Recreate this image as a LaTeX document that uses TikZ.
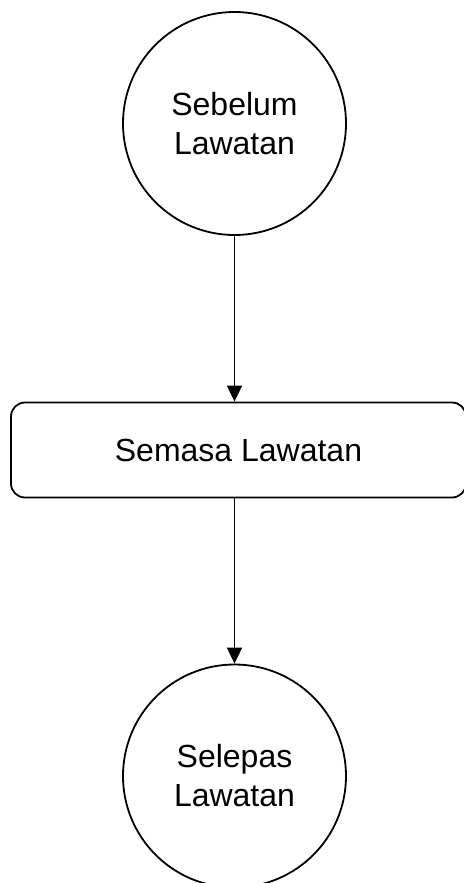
\documentclass[tikz,border=0pt]{standalone}
\usepackage{fontspec}
\setmainfont{Liberation Sans}
\usetikzlibrary{arrows.meta}

\begin{document}
\begin{tikzpicture}[x=1pt, y=-1pt, line width=1.8pt,
	arrows={-Triangle[length=16pt,width=15pt]},
	font=\fontsize{32}{39}\selectfont]
	\useasboundingbox (0,0) rectangle (463,883);
	\node (S1) at (234.5,123.5) [circle, draw, minimum size=223pt, inner sep=0pt, align=center] {Sebelum\\Lawatan};
	\node (S2) at (238.5,450) [draw, rounded corners=14pt, minimum width=455pt, minimum height=95pt, inner sep=0pt] {Semasa Lawatan};
	\node (S3) at (234.5,776) [circle, draw, minimum size=223pt, inner sep=0pt, align=center] {Selepas\\Lawatan};
	\draw (S1) -- (S1 |- S2.north);
	\draw (S2.south -| S3) -- (S3);
\end{tikzpicture}
\end{document}
